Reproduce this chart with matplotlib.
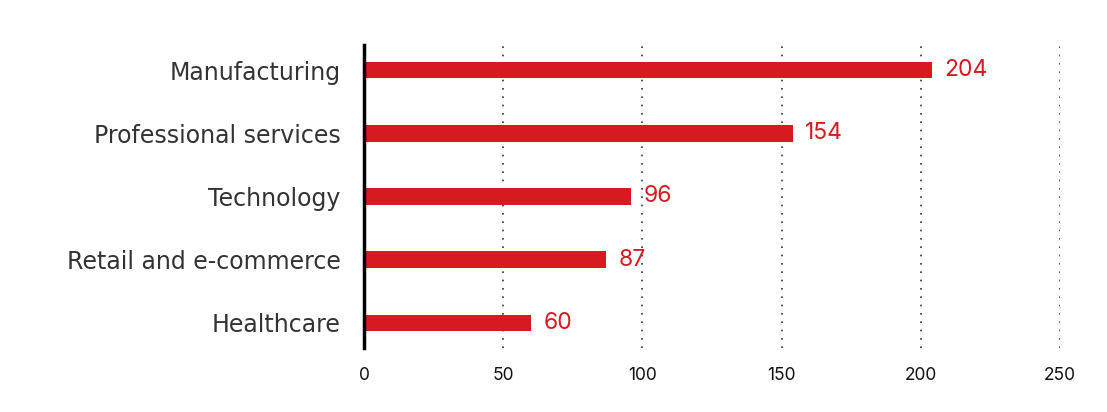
import matplotlib.pyplot as plt

# Data
sectors = ['Manufacturing', 'Professional services', 'Technology', 'Retail and e-commerce', 'Healthcare']
counts = [204, 154, 96, 87, 60]
xticks = [0, 50, 100, 150, 200, 250]

red = '#d71920'
plt.rcParams['font.family'] = ['Inter', 'DejaVu Sans']

fig = plt.figure(figsize=(11.07, 4.12), dpi=100)
ax = fig.add_axes([364 / 1107, 1 - 348 / 412, 696 / 1107, 303 / 412])

ypos = list(range(len(sectors)))
ax.barh(ypos, counts, height=0.26, color=red, zorder=3)
for y, v in zip(ypos, counts):
    ax.annotate(str(v), (v, y), xytext=(9, 0), textcoords='offset points',
                va='center', ha='left', color=red, fontsize=16.5)

ax.set_xlim(0, 250)
ax.set_ylim(4.4, -0.4)
ax.set_yticks(ypos)
ax.set_yticklabels(sectors, fontsize=17, color='#333333', family=['DejaVu Sans'])
ax.set_xticks(xticks)
ax.set_xticklabels([str(t) for t in xticks], fontsize=12.5, color='#111111')
ax.tick_params(axis='y', length=0, pad=17)
ax.tick_params(axis='x', length=0, pad=14)

ax.grid(axis='x', linestyle=(0, (1, 4)), color='#333333', linewidth=1.2, zorder=0)
for s in ['top', 'right', 'bottom']:
    ax.spines[s].set_visible(False)
ax.spines['left'].set_linewidth(2.5)
ax.spines['left'].set_color('black')
ax.spines['left'].set_zorder(4)

fig.savefig('out.png', dpi=100)
